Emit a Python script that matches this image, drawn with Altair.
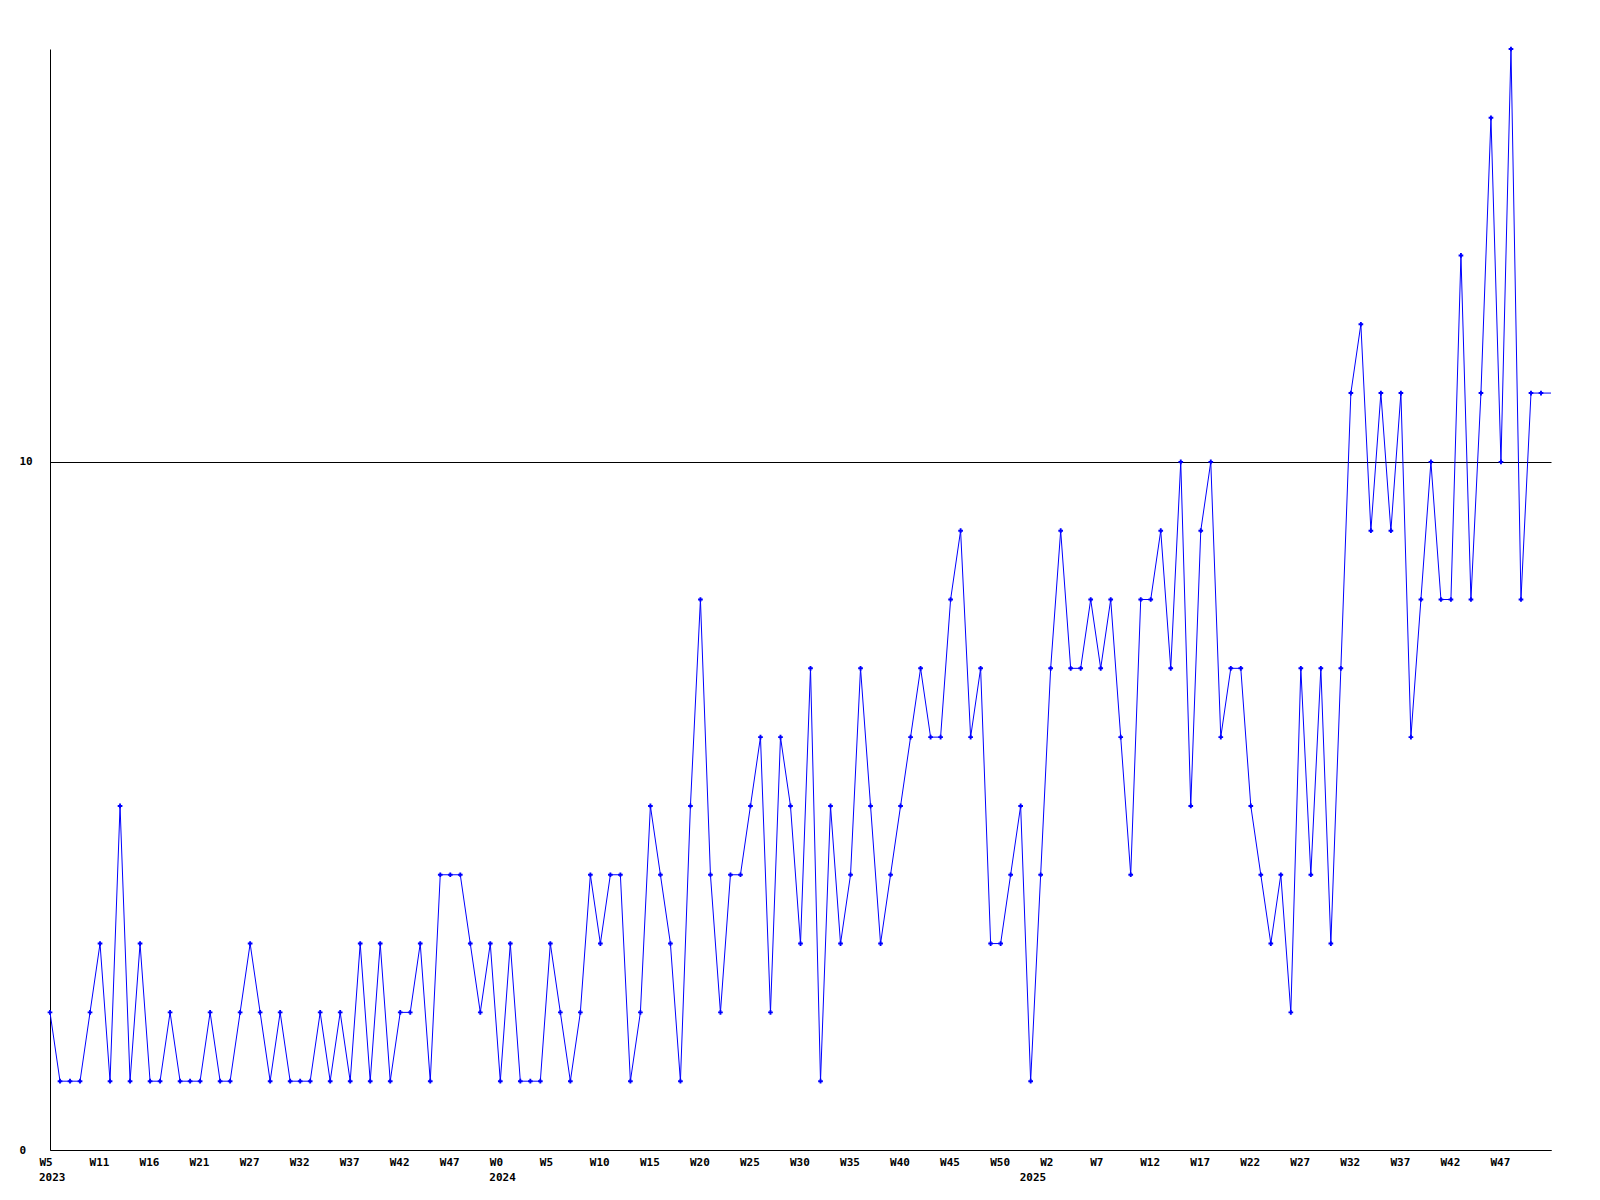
import altair as alt
import pandas as pd

values = [
    2, 1, 1, 1, 2, 3, 1, 5, 1, 3, 1, 1, 2, 1, 1, 1, 2, 1, 1, 2, 3, 2, 1, 2, 1, 1,
    1, 2, 1, 2, 1, 3, 1, 3, 1, 2, 2, 3, 1, 4, 4, 4, 3, 2, 3, 1, 3, 1, 1, 1, 3, 2, 1,
    2, 4, 3, 4, 4, 1, 2, 5, 4, 3, 1, 5, 8, 4, 2, 4, 4, 5, 6, 2, 6, 5, 3, 7, 1, 5,
    3, 4, 7, 5, 3, 4, 5, 6, 7, 6, 6, 8, 9, 6, 7, 3, 3, 4, 5, 1, 4, 7, 9, 7, 7, 8,
    7, 8, 6, 4, 8, 8, 9, 7, 10, 5, 9, 10, 6, 7, 7, 5, 4, 3, 4, 2, 7, 4, 7, 3, 7,
    11, 12, 9, 11, 9, 11, 6, 8, 10, 8, 8, 13, 8, 11, 15, 10, 16, 8, 11, 11, 11,
]

week_labels = [
    "W5", "W11", "W16", "W21", "W27", "W32", "W37", "W42", "W47",
    "W0", "W5", "W10", "W15", "W20", "W25", "W30", "W35", "W40", "W45", "W50",
    "W2", "W7", "W12", "W17", "W22", "W27", "W32", "W37", "W42", "W47",
]
label_step = 5

year_labels = ["2023", "2024", "2025"]
year_index = [0, 45, 98]

y_ticks = [0, 10]

W, H = 1501, 1101
FONT = "DejaVu Sans Mono"
PAD = 6
LINE_H = 16

df = pd.DataFrame({"i": list(range(len(values))), "v": values})
years = pd.DataFrame({"i": year_index, "label": year_labels})
last_i = len(values) - 1

label_expr = "[" + ",".join("'%s'" % w for w in week_labels) + "][round(datum.value/%d)]" % label_step
tick_values = [k * label_step for k in range(len(week_labels))]

x_scale = alt.Scale(domain=[0, last_i], nice=False, zero=False)

x = alt.X(
    "i:Q",
    scale=x_scale,
    axis=alt.Axis(
        values=tick_values,
        labelExpr=label_expr,
        title=None,
        grid=False,
        ticks=False,
        tickSize=0,
        labelAlign="left",
        labelOffset=-11,
        labelBaseline="top",
        labelPadding=PAD,
        labelFont=FONT,
        labelFontWeight="bold",
        labelFontSize=11,
        labelColor="black",
        labelOverlap=False,
        labelFlush=False,
        domainColor="black",
        domainWidth=1,
    ),
)
y = alt.Y(
    "v:Q",
    scale=alt.Scale(domain=[0, 16], nice=False),
    axis=alt.Axis(
        values=y_ticks,
        title=None,
        grid=True,
        gridColor="black",
        gridOpacity=1,
        gridWidth=1,
        ticks=False,
        tickSize=0,
        labelAlign="left",
        labelPadding=31,
        labelBaseline="middle",
        labelFont=FONT,
        labelFontWeight="bold",
        labelFontSize=11,
        labelColor="black",
        domainColor="black",
        domainWidth=1,
    ),
)

base = alt.Chart(df)
line = base.mark_line(color="#0000ff", strokeWidth=1).encode(x=x, y=y)
pts = (
    base.transform_filter(alt.datum.i < last_i)
    .mark_point(shape="cross", size=22, filled=True, color="#0000ff", opacity=1)
    .encode(x=x, y=y)
)

year_text = alt.Chart(years).mark_text(
    align="left", baseline="top", dx=-11, font=FONT, fontWeight="bold", fontSize=11, color="black"
).encode(
    x=alt.X("i:Q", scale=x_scale),
    y=alt.value(H + PAD + LINE_H),
    text="label:N",
)

chart = (
    alt.layer(line, pts, year_text)
    .properties(
        width=W,
        height=H,
        padding={"left": 42, "top": 41, "right": 41, "bottom": 42},
        autosize=alt.AutoSizeParams(type="none"),
        background="white",
    )
    .configure_view(stroke=None)
)

chart.save("out.html", embed_options={"renderer": "svg", "actions": False})
